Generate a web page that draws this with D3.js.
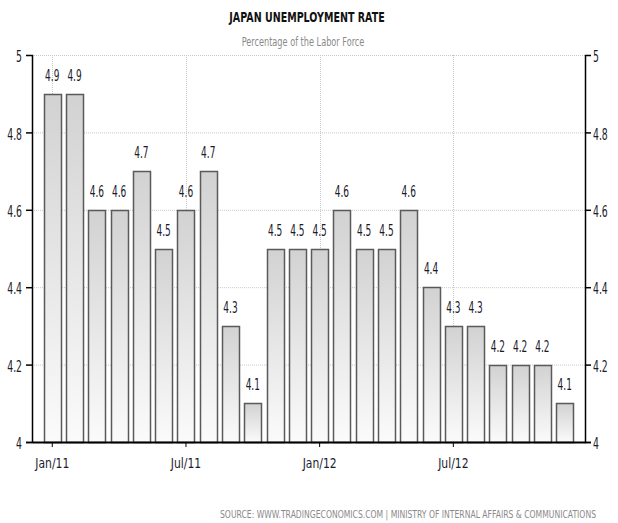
<!DOCTYPE html>
<html>
<head>
<meta charset="utf-8">
<script src="https://cdn.jsdelivr.net/npm/d3@7"></script>
<style>
  body { margin: 0; background: #fff; }
  text { font-family: "DejaVu Sans", sans-serif; }
</style>
</head>
<body>
<div id="chart"></div>
<script>
// monthly unemployment rate, Jan 2011 - Dec 2012
const months = ["Jan/11","Feb/11","Mar/11","Apr/11","May/11","Jun/11","Jul/11","Aug/11","Sep/11","Oct/11","Nov/11","Dec/11",
                "Jan/12","Feb/12","Mar/12","Apr/12","May/12","Jun/12","Jul/12","Aug/12","Sep/12","Oct/12","Nov/12","Dec/12"];
const rates = [4.9, 4.9, 4.6, 4.6, 4.7, 4.5, 4.6, 4.7, 4.3, 4.1, 4.5, 4.5,
               4.5, 4.6, 4.5, 4.5, 4.6, 4.4, 4.3, 4.3, 4.2, 4.2, 4.2, 4.1];
const xTickLabels = ["Jan/11", "Jul/11", "Jan/12", "Jul/12"];
const yTicks = [4, 4.2, 4.4, 4.6, 4.8, 5];

const width = 618, height = 523;
const margin = { top: 55, right: 33, bottom: 81, left: 32 };

// squeeze text horizontally, the original uses a very narrow face
function narrow(sel, f) {
  sel.each(function () {
    const len = this.getComputedTextLength();
    d3.select(this).attr("textLength", len * f).attr("lengthAdjust", "spacingAndGlyphs");
  });
}

const svg = d3.select("#chart").append("svg")
  .attr("width", width)
  .attr("height", height);

const defs = svg.append("defs");
const grad = defs.append("linearGradient")
  .attr("id", "barFill")
  .attr("x1", 0).attr("y1", 0).attr("x2", 0).attr("y2", 1);
grad.append("stop").attr("offset", "0%").attr("stop-color", "#d2d2d2");
grad.append("stop").attr("offset", "100%").attr("stop-color", "#fbfbfb");

const x = d3.scaleBand()
  .domain(months)
  .range([margin.left, width - margin.right])
  .paddingInner(0.24)
  .paddingOuter(0.53);

const y = d3.scaleLinear()
  .domain([4, 5])
  .range([height - margin.bottom, margin.top]);

const x0 = margin.left, x1 = width - margin.right;
const y0 = height - margin.bottom, y1 = margin.top;

// grid
const grid = svg.append("g").attr("class", "grid");
grid.selectAll(".hgrid")
  .data(yTicks.filter(d => d > 4))
  .enter().append("line")
  .attr("x1", x0).attr("x2", x1)
  .attr("y1", d => y(d) + 0.5).attr("y2", d => y(d) + 0.5)
  .attr("stroke", "#c8c8c8")
  .attr("stroke-dasharray", "1,1");
grid.selectAll(".vgrid")
  .data(xTickLabels)
  .enter().append("line")
  .attr("x1", d => Math.round(x(d) + x.bandwidth() / 2) + 0.5)
  .attr("x2", d => Math.round(x(d) + x.bandwidth() / 2) + 0.5)
  .attr("y1", y1).attr("y2", y0)
  .attr("stroke", "#c8c8c8")
  .attr("stroke-dasharray", "1,1");

// bars
svg.append("g").selectAll("rect")
  .data(rates)
  .enter().append("rect")
  .attr("x", (d, i) => Math.round(x(months[i])) + 0.5)
  .attr("y", d => Math.round(y(d)) + 0.5)
  .attr("width", Math.round(x.bandwidth()))
  .attr("height", d => y0 - Math.round(y(d)))
  .attr("fill", "url(#barFill)")
  .attr("stroke", "#5a5a5a")
  .attr("stroke-width", 1.5);

// value labels
svg.append("g").selectAll("text")
  .data(rates)
  .enter().append("text")
  .attr("x", (d, i) => x(months[i]) + x.bandwidth() / 2)
  .attr("y", d => y(d) - 13)
  .attr("text-anchor", "middle")
  .attr("font-size", 15)
  .attr("fill", "#1a1a2a")
  .text(d => d.toFixed(1))
  .call(narrow, 0.6);

// axes
const fmt = d => d === 4 || d === 5 ? String(d) : d.toFixed(1);

const yLeft = d3.axisLeft(y).tickValues(yTicks).tickSize(6).tickFormat(fmt);
const gl = svg.append("g")
  .attr("transform", `translate(${x0},0)`)
  .call(yLeft);

const yRight = d3.axisRight(y).tickValues(yTicks).tickSize(6).tickFormat(fmt);
const gr = svg.append("g")
  .attr("transform", `translate(${x1},0)`)
  .call(yRight);

[gl, gr].forEach(g => {
  g.select(".domain").attr("stroke", "#000").attr("stroke-width", 1.5);
  g.selectAll(".tick line").attr("stroke", "#000").attr("stroke-width", 1.5);
  g.selectAll(".tick text")
    .attr("font-size", 15)
    .attr("fill", "#1c1c2c")
    .attr("dy", "0.45em");
});
gl.selectAll(".tick text").attr("x", -10);
gr.selectAll(".tick text").attr("x", 8);
gl.selectAll(".tick text").call(narrow, 0.62);
gr.selectAll(".tick text").call(narrow, 0.62);
gl.selectAll(".tick").filter(d => d === 5).select("line").remove();
gr.selectAll(".tick").filter(d => d === 5).select("line").remove();

const xAxis = d3.axisBottom(x)
  .tickValues(xTickLabels)
  .tickSize(5)
  .tickSizeOuter(0);
const gx = svg.append("g")
  .attr("transform", `translate(0,${y0})`)
  .call(xAxis);
gx.select(".domain").attr("stroke", "#000").attr("stroke-width", 2);
gx.selectAll(".tick line").attr("stroke", "#000");
gx.selectAll(".tick text")
  .attr("font-size", 14)
  .attr("fill", "#1c1c2c")
  .attr("y", 16)
  .call(narrow, 0.77);

// titles
svg.append("text")
  .attr("x", 307).attr("y", 22)
  .attr("text-anchor", "middle")
  .attr("font-size", 14)
  .attr("font-weight", "bold")
  .attr("fill", "#111")
  .text("JAPAN UNEMPLOYMENT RATE")
  .call(narrow, 0.68);

svg.append("text")
  .attr("x", 303).attr("y", 46)
  .attr("text-anchor", "middle")
  .attr("font-size", 12)
  .attr("fill", "#8a8a8a")
  .text("Percentage of the Labor Force")
  .call(narrow, 0.68);

// source line, squeezed with a transform so its box stays inside the page
svg.append("g")
  .attr("transform", "translate(408,518) scale(0.73,1)")
  .append("text")
  .attr("x", 0).attr("y", 0)
  .attr("text-anchor", "middle")
  .attr("font-size", 10.5)
  .attr("fill", "#8a8a8a")
  .text("SOURCE:  WWW.TRADINGECONOMICS.COM  |  MINISTRY OF INTERNAL AFFAIRS & COMMUNICATIONS");
</script>
</body>
</html>
